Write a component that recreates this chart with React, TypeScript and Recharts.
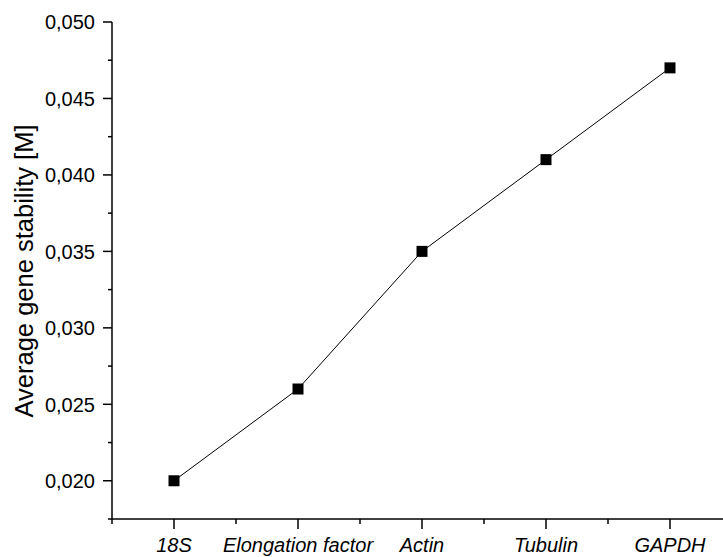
import React from "react"
import { LineChart, Line, XAxis, YAxis, Label } from "recharts"

const genes = ["18S", "Elongation factor", "Actin", "Tubulin", "GAPDH"]
const stability = [0.02, 0.026, 0.035, 0.041, 0.047]
const xTicks = [0.5, 1, 1.5, 2, 2.5, 3, 3.5, 4, 4.5, 5, 5.5]
const yTicks = [0.0175, 0.02, 0.0225, 0.025, 0.0275, 0.03, 0.0325, 0.035, 0.0375, 0.04, 0.0425, 0.045, 0.0475, 0.05]

const data = genes.map((name, i) => ({ x: i + 1, name, value: stability[i] }))

const FONT = "'Liberation Sans', Arial, sans-serif"

// category labels only on whole positions, short ticks in between
const XTick = (props: any) => {
  const { x, y, payload } = props
  const v = payload.value
  const major = Number.isInteger(v)
  return (
    <g>
      <line x1={x} y1={y} x2={x} y2={y + (major ? 10 : 5)} stroke="#000" strokeWidth={1.5} />
      {major && (
        <text x={x} y={y + 33} textAnchor="middle" fontSize={20} fontStyle="italic" fontFamily={FONT} fill="#000">
          {genes[v - 1]}
        </text>
      )}
    </g>
  )
}

const YTick = (props: any) => {
  const { x, y, payload } = props
  const v = payload.value
  const major = Math.round(v * 10000) % 50 === 0
  return (
    <g>
      <line x1={x - (major ? 9 : 4)} y1={y} x2={x} y2={y} stroke="#000" strokeWidth={1.5} />
      {major && (
        <text x={x - 17} y={y} dy="0.36em" textAnchor="end" fontSize={20} fontFamily={FONT} fill="#000">
          {v.toFixed(3).replace(".", ",")}
        </text>
      )}
    </g>
  )
}

const SquareDot = (props: any) => {
  const { cx, cy, index } = props
  return <rect key={`dot-${index}`} x={cx - 5.5} y={cy - 5.5} width={11} height={11} fill="#000" />
}

export default function App() {
  return (
    <div style={{ position: "absolute", left: 0, top: 0, width: 723, height: 557, overflow: "hidden", background: "#fff" }}>
      <LineChart width={732} height={557} data={data} margin={{ top: 22, right: 0, bottom: 0, left: 0 }}>
        <XAxis
          dataKey="x"
          type="number"
          domain={[0.5, 5.5]}
          ticks={xTicks}
          interval={0}
          height={38}
          tickSize={0}
          tickMargin={0}
          tickLine={false}
          tick={<XTick />}
          axisLine={{ stroke: "#000", strokeWidth: 1.5 }}
        />
        <YAxis
          type="number"
          domain={[0.0175, 0.05]}
          ticks={yTicks}
          interval={0}
          width={112}
          tickSize={0}
          tickMargin={0}
          tickLine={false}
          tick={<YTick />}
          axisLine={{ stroke: "#000", strokeWidth: 1.5 }}
        >
          <Label
            content={() => (
              <text
                x={33}
                y={271}
                transform="rotate(-90 33 271)"
                textAnchor="middle"
                fontSize={25.5}
                fontFamily={FONT}
                fill="#000"
              >
                Average gene stability [M]
              </text>
            )}
          />
        </YAxis>
        <Line
          dataKey="value"
          stroke="#000"
          strokeWidth={1}
          dot={<SquareDot />}
          activeDot={false}
          isAnimationActive={false}
        />
      </LineChart>
    </div>
  )
}
